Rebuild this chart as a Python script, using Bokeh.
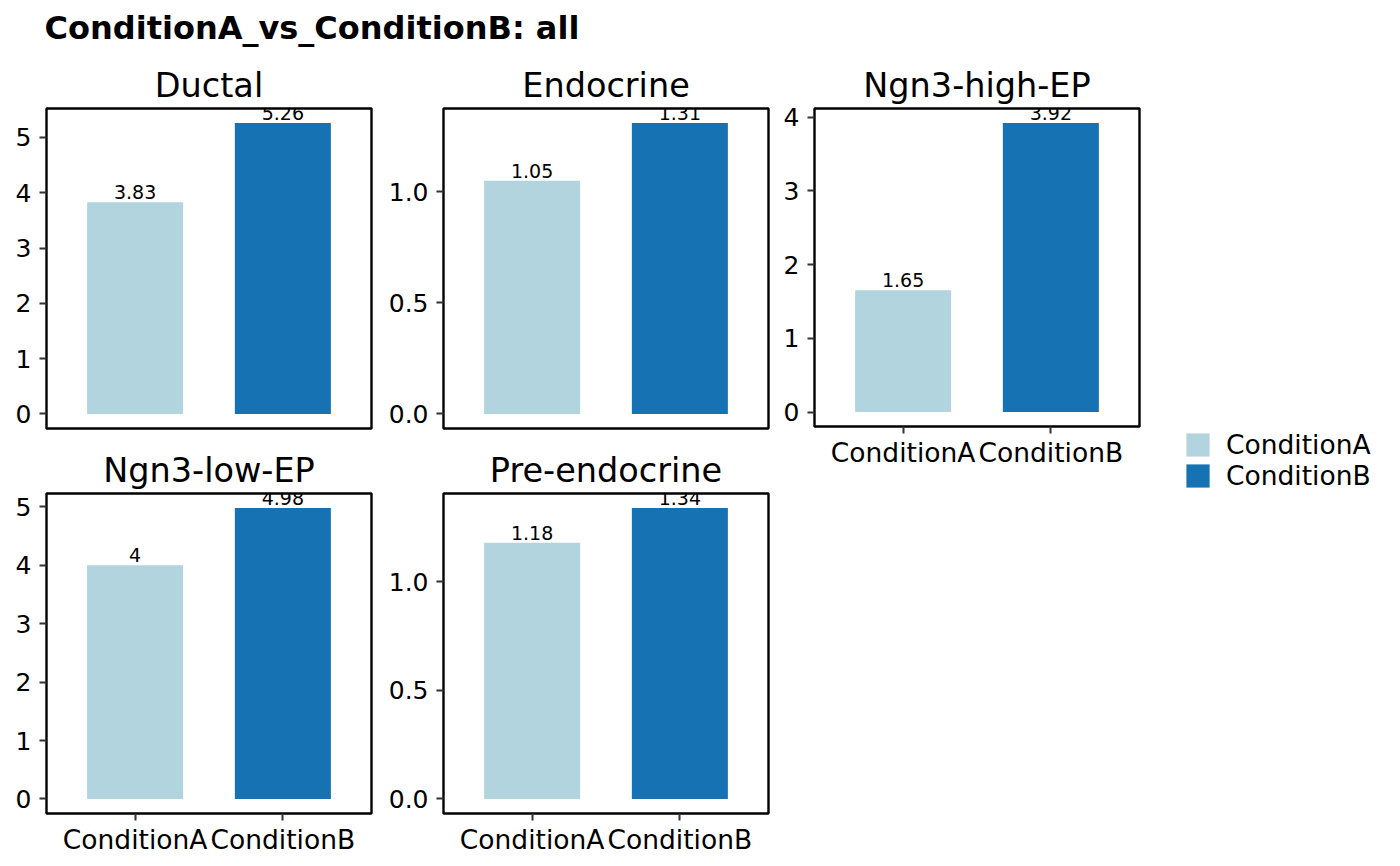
from bokeh.plotting import figure
from bokeh.models import Range1d, FixedTicker, Legend, LegendItem, ColumnDataSource
from bokeh.layouts import row, column
from bokeh.embed import file_html
from bokeh.resources import INLINE
from bokeh.core.properties import value

# ---------------- data ----------------
main_title = "ConditionA_vs_ConditionB: all"
cell_types = ["Ductal", "Endocrine", "Ngn3-high-EP", "Ngn3-low-EP", "Pre-endocrine"]
conditions = ["ConditionA", "ConditionB"]
cond_a = [3.83, 1.05, 1.65, 4.00, 1.18]
cond_b = [5.26, 1.31, 3.92, 4.98, 1.34]
y_ticks = [[0, 1, 2, 3, 4, 5], [0, 0.5, 1.0], [0, 1, 2, 3, 4], [0, 1, 2, 3, 4, 5], [0, 0.5, 1.0]]
y_tick_labels = [["0", "1", "2", "3", "4", "5"], ["0.0", "0.5", "1.0"], ["0", "1", "2", "3", "4"],
                 ["0", "1", "2", "3", "4", "5"], ["0.0", "0.5", "1.0"]]
colors = ["#B2D4DE", "#1772B4"]

FONT = "DejaVu Sans"


def make_panel(i, width, height, left, right, top, bottom, show_x):
    vals = [cond_a[i], cond_b[i]]
    vmax = max(vals)
    xs = [1, 2]
    src = ColumnDataSource(dict(x=xs, top=vals, color=colors,
                                label=[f"{v:g}" for v in vals]))
    p = figure(width=width, height=height,
               x_range=Range1d(0.4, 2.6), y_range=Range1d(-0.05 * vmax, 1.05 * vmax),
               output_backend="svg", toolbar_location=None,
               min_border_left=left, min_border_right=right,
               min_border_top=top, min_border_bottom=bottom,
               x_axis_location="below" if show_x else None)
    p.vbar(x="x", top="top", width=0.65, fill_color="color", line_color=None, source=src)
    p.text(x="x", y="top", text="label", text_align="center", text_baseline="bottom",
           y_offset=-3,
           text_font=value(FONT), text_font_size="19px", text_color="black", source=src)
    p.xgrid.visible = False
    p.ygrid.visible = False
    p.outline_line_color = "black"
    p.outline_line_width = 2.4
    p.outline_line_alpha = 1
    p.background_fill_color = "white"
    p.border_fill_color = "white"

    p.title.text = cell_types[i]
    p.title.align = "center"
    p.title.text_font = FONT
    p.title.text_font_size = "33.5px"
    p.title.text_font_style = "normal"
    p.title.text_color = "black"
    p.title.standoff = 7

    ya = p.yaxis[0]
    ya.ticker = FixedTicker(ticks=y_ticks[i])
    ya.major_label_overrides = {t: l for t, l in zip(y_ticks[i], y_tick_labels[i])}
    ya.axis_line_color = None
    ya.major_tick_line_color = "#333333"
    ya.major_tick_line_width = 2
    ya.major_tick_out = 7
    ya.major_tick_in = 0
    ya.minor_tick_line_color = None
    ya.major_label_text_font = FONT
    ya.major_label_text_font_size = "25px"
    ya.major_label_text_color = "black"
    ya.major_label_standoff = 8

    if show_x:
        xa = p.xaxis[0]
        xa.ticker = FixedTicker(ticks=xs)
        xa.major_label_overrides = {x: c for x, c in zip(xs, conditions)}
        xa.axis_line_color = None
        xa.major_tick_line_color = "#333333"
        xa.major_tick_line_width = 2
        xa.major_tick_out = 7
        xa.major_tick_in = 0
        xa.minor_tick_line_color = None
        xa.major_label_text_font = FONT
        xa.major_label_text_font_size = "26.5px"
        xa.major_label_text_color = "black"
        xa.major_label_standoff = 3
    return p


header = figure(width=1384, height=60, x_axis_type=None, y_axis_type=None,
                output_backend="svg", toolbar_location=None,
                min_border_left=44, min_border_right=0, min_border_top=46, min_border_bottom=0,
                title=main_title)
header.outline_line_color = None
header.xgrid.visible = False
header.ygrid.visible = False
header.title.text_font = FONT
header.title.text_font_size = "32px"
header.title.text_font_style = "bold"
header.title.text_color = "black"
header.title.align = "left"
header.title.standoff = 0

p1 = make_panel(0, 381, 380, 46, 10, 48, 12, False)
p2 = make_panel(1, 395, 380, 62, 8, 48, 12, False)
p3 = make_panel(2, 374, 410, 38, 11, 48, 42, True)
p4 = make_panel(3, 381, 418, 46, 10, 53, 45, True)
p5 = make_panel(4, 395, 418, 62, 8, 53, 45, True)

lf = figure(width=234, height=798, x_axis_type=None, y_axis_type=None,
            x_range=Range1d(0, 1), y_range=Range1d(0, 10),
            output_backend="svg", toolbar_location=None,
            min_border_left=0, min_border_right=0, min_border_top=0, min_border_bottom=0)
lf.outline_line_color = None
lf.xgrid.visible = False
lf.ygrid.visible = False
items = []
for cond, col, vals in zip(conditions, colors, [cond_a, cond_b]):
    r = lf.vbar(x=list(range(1, len(vals) + 1)), top=vals, width=0.5,
                fill_color=col, line_color=None)
    r.visible = False
    items.append(LegendItem(label=cond, renderers=[r]))
legend = Legend(items=items, location=(33, 367), orientation="vertical",
                glyph_width=29, glyph_height=29, label_height=23, spacing=-5,
                padding=0, margin=0, label_standoff=14, click_policy="none",
                label_text_font=FONT, label_text_font_size="26.5px", label_text_color="black",
                border_line_color=None, background_fill_alpha=0,
                inactive_fill_alpha=0)
lf.add_layout(legend)

layout = column(header,
                row(column(p1, p4), column(p2, p5), column(p3), lf))

open("out.html", "w").write(file_html(layout, INLINE))
